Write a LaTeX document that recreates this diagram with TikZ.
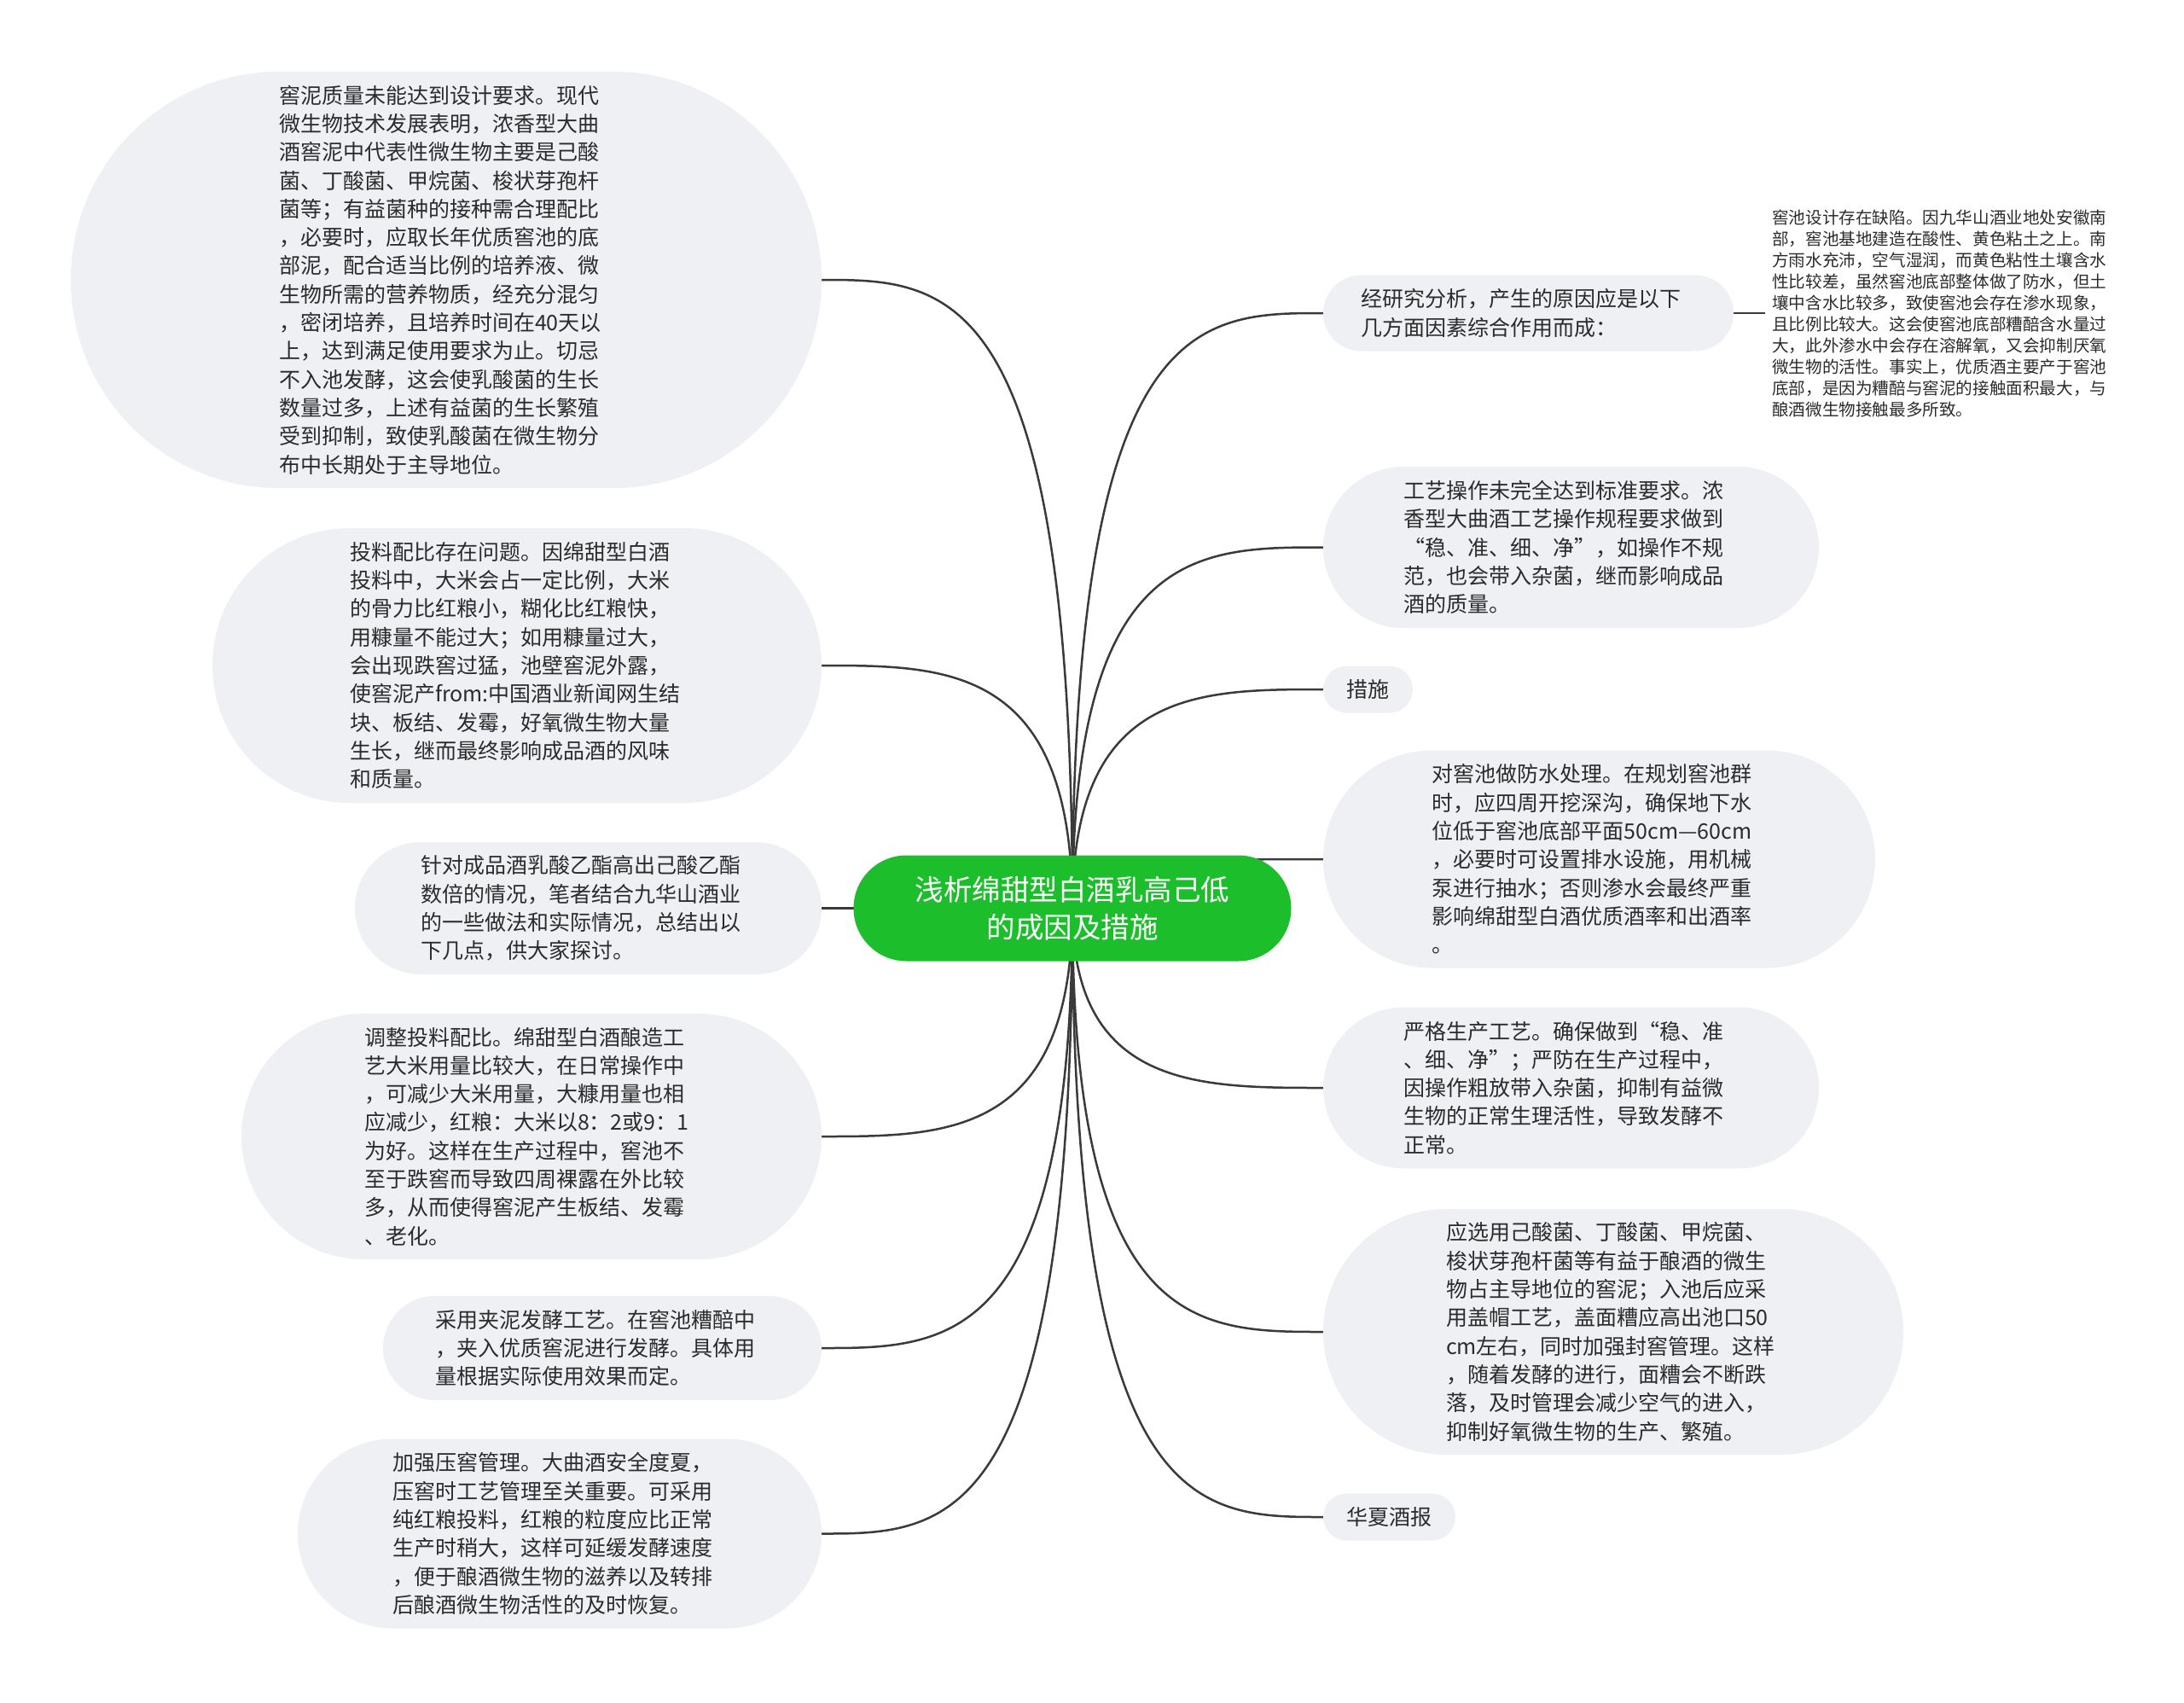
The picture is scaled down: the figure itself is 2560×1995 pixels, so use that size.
\documentclass[tikz,border=0pt]{standalone}
\usepackage{fontspec}
\setmainfont{Noto Sans CJK SC}
\usetikzlibrary{calc}
\definecolor{leaffill}{HTML}{EEF0F3}
\definecolor{rootfill}{HTML}{1CBE2B}
\definecolor{inkc}{HTML}{2B2B2B}
\definecolor{linec}{HTML}{3A3A3A}
\pgfdeclarelayer{background}
\pgfsetlayers{background,main}
\tikzstyle{leaf} = [fill=leaffill, text=inkc, inner sep=0pt, align=left, text width=392pt, font=\fontsize{25}{33.3}\selectfont]
\tikzstyle{root} = [fill=rootfill, text=white, inner sep=0pt, align=center, minimum width=513pt, minimum height=124pt, rounded corners=62pt, font=\fontsize{33.5}{44}\selectfont]
\tikzstyle{note} = [text=inkc, inner sep=0pt, inner xsep=8pt, align=left, font=\fontsize{19.6}{25}\selectfont]
\tikzstyle{branch} = [draw=linec, line width=2.5pt]
\tikzset{pill/.style 2 args={minimum width=#1, minimum height=#2, rounded corners=#2/2}}

\begin{document}
\begin{tikzpicture}[x=1pt, y=-1pt]
		\useasboundingbox (0,0) rectangle (2560,1995);
		
		\node [root] (root) at (1257,1064.5) {浅析绵甜型白酒乳高己低\\的成因及措施};
		
		% left side
		\node [leaf, pill={880pt}{488pt}] (L1) at (523,328) {
			窖泥质量未能达到设计要求。现代\\
			微生物技术发展表明，浓香型大曲\\
			酒窖泥中代表性微生物主要是己酸\\
			菌、丁酸菌、甲烷菌、梭状芽孢杆\\
			菌等；有益菌种的接种需合理配比\\
			，必要时，应取长年优质窖池的底\\
			部泥，配合适当比例的培养液、微\\
			生物所需的营养物质，经充分混匀\\
			，密闭培养，且培养时间在40天以\\
			上，达到满足使用要求为止。切忌\\
			不入池发酵，这会使乳酸菌的生长\\
			数量过多，上述有益菌的生长繁殖\\
			受到抑制，致使乳酸菌在微生物分\\
			布中长期处于主导地位。};
		
		\node [leaf, pill={714pt}{322pt}] (L2) at (606,780) {
			投料配比存在问题。因绵甜型白酒\\
			投料中，大米会占一定比例，大米\\
			的骨力比红粮小，糊化比红粮快，\\
			用糠量不能过大；如用糠量过大，\\
			会出现跌窖过猛，池壁窖泥外露，\\
			使窖泥产from:中国酒业新闻网生结\\
			块、板结、发霉，好氧微生物大量\\
			生长，继而最终影响成品酒的风味\\
			和质量。};
		
		\node [leaf, pill={547pt}{155pt}] (L3) at (689.5,1064.5) {
			针对成品酒乳酸乙酯高出己酸乙酯\\
			数倍的情况，笔者结合九华山酒业\\
			的一些做法和实际情况，总结出以\\
			下几点，供大家探讨。};
		
		\node [leaf, pill={680pt}{288pt}] (L4) at (623,1332) {
			调整投料配比。绵甜型白酒酿造工\\
			艺大米用量比较大，在日常操作中\\
			，可减少大米用量，大糠用量也相\\
			应减少，红粮：大米以8：2或9：1\\
			为好。这样在生产过程中，窖池不\\
			至于跌窖而导致四周裸露在外比较\\
			多，从而使得窖泥产生板结、发霉\\
			、老化。};
		
		\node [leaf, pill={514pt}{122pt}] (L5) at (706,1580) {
			采用夹泥发酵工艺。在窖池糟醅中\\
			，夹入优质窖泥进行发酵。具体用\\
			量根据实际使用效果而定。};
		
		\node [leaf, pill={614pt}{222pt}] (L6) at (656,1797.5) {
			加强压窖管理。大曲酒安全度夏，\\
			压窖时工艺管理至关重要。可采用\\
			纯红粮投料，红粮的粒度应比正常\\
			生产时稍大，这样可延缓发酵速度\\
			，便于酿酒微生物的滋养以及转排\\
			后酿酒微生物活性的及时恢复。};
		
		% right side
		\node [leaf, pill={481pt}{89pt}] (R1) at (1791.5,367) {
			经研究分析，产生的原因应是以下\\
			几方面因素综合作用而成：};
		
		\node [note, text width=392pt, anchor=west] (R1a) at (2069,367) {
			窖池设计存在缺陷。因九华山酒业地处安徽南\\
			部，窖池基地建造在酸性、黄色粘土之上。南\\
			方雨水充沛，空气湿润，而黄色粘性土壤含水\\
			性比较差，虽然窖池底部整体做了防水，但土\\
			壤中含水比较多，致使窖池会存在渗水现象，\\
			且比例比较大。这会使窖池底部糟醅含水量过\\
			大，此外渗水中会存在溶解氧，又会抑制厌氧\\
			微生物的活性。事实上，优质酒主要产于窖池\\
			底部，是因为糟醅与窖泥的接触面积最大，与\\
			酿酒微生物接触最多所致。};
		
		\node [leaf, pill={581pt}{189pt}] (R2) at (1841.5,641.5) {
			工艺操作未完全达到标准要求。浓\\
			香型大曲酒工艺操作规程要求做到\\
			“稳、准、细、净”，如操作不规\\
			范，也会带入杂菌，继而影响成品\\
			酒的质量。};
		
		\node [leaf, pill={105pt}{55pt}, text width=50pt] (R3) at (1603.5,808) {措施};
		
		\node [leaf, pill={647pt}{255pt}] (R4) at (1874.5,1007) {
			对窖池做防水处理。在规划窖池群\\
			时，应四周开挖深沟，确保地下水\\
			位低于窖池底部平面50cm—60cm\\
			，必要时可设置排水设施，用机械\\
			泵进行抽水；否则渗水会最终严重\\
			影响绵甜型白酒优质酒率和出酒率\\
			。};
		
		\node [leaf, pill={581pt}{189pt}] (R5) at (1841.5,1275) {
			严格生产工艺。确保做到“稳、准\\
			、细、净”；严防在生产过程中，\\
			因操作粗放带入杂菌，抑制有益微\\
			生物的正常生理活性，导致发酵不\\
			正常。};
		
		\node [leaf, pill={680pt}{288pt}] (R6) at (1891,1561) {
			应选用己酸菌、丁酸菌、甲烷菌、\\
			梭状芽孢杆菌等有益于酿酒的微生\\
			物占主导地位的窖泥；入池后应采\\
			用盖帽工艺，盖面糟应高出池口50\\
			cm左右，同时加强封窖管理。这样\\
			，随着发酵的进行，面糟会不断跌\\
			落，及时管理会减少空气的进入，\\
			抑制好氧微生物的生产、繁殖。};
		
		\node [leaf, pill={155pt}{55pt}, text width=100pt] (R7) at (1628.5,1778) {华夏酒报};
		
		% connectors, behind the bubbles
		\begin{pgfonlayer}{background}
			\fill[white] (0,0) rectangle (2560,1995);
			\foreach \n in {L1,L2,L3,L4,L5,L6}
				\draw[branch] (root.center) .. controls (root.center |- \n.east) and ($(root.center |- \n.east)!0.5!(\n.east)$) .. (\n.east);
			\foreach \n in {R1,R2,R3,R4,R5,R6,R7}
				\draw[branch] (root.center) .. controls (root.center |- \n.west) and ($(root.center |- \n.west)!0.5!(\n.west)$) .. (\n.west);
			\draw[branch] (R1.east) -- (R1a.west);
		\end{pgfonlayer}
		
	\end{tikzpicture}
\end{document}
